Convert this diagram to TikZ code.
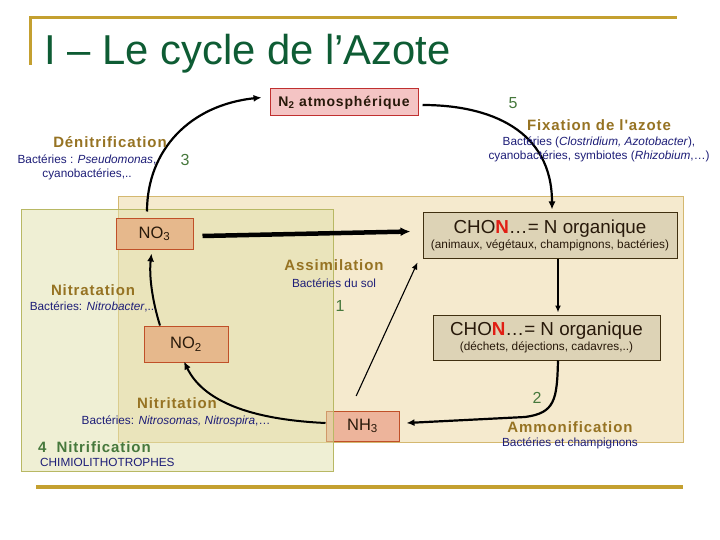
\documentclass[tikz,border=0pt]{standalone}
\usepackage{fontspec}
\setmainfont{Liberation Sans}
\newfontfamily\spaced[LetterSpace=6]{Liberation Sans}
\usetikzlibrary{arrows.meta,calc}

\definecolor{goldline}{RGB}{196,160,48}
\definecolor{titlegreen}{RGB}{14,92,52}
\definecolor{procgold}{RGB}{150,115,35}
\definecolor{bactnavy}{RGB}{30,30,120}
\definecolor{numgreen}{RGB}{70,120,60}
\definecolor{orgfill}{RGB}{245,234,206}
\definecolor{orgedge}{RGB}{212,184,112}
\definecolor{nitrfill}{RGB}{224,224,170}
\definecolor{nitredge}{RGB}{184,184,100}
\definecolor{nofill}{RGB}{230,184,140}
\definecolor{noedge}{RGB}{192,80,40}
\definecolor{nhfill}{RGB}{237,180,155}
\definecolor{ntwofill}{RGB}{244,196,196}
\definecolor{ntwoedge}{RGB}{192,48,48}
\definecolor{chonfill}{RGB}{221,211,182}
\definecolor{chonedge}{RGB}{64,48,16}
\definecolor{inktext}{RGB}{40,25,10}
\definecolor{chonred}{RGB}{225,30,20}

\newcommand{\chonline}{CHO\textcolor{chonred}{\textbf{N}}…= N organique}

\begin{document}
\begin{tikzpicture}[x=1pt, y=-1pt,
  procname/.style={text=procgold, font=\spaced\bfseries\fontsize{15}{17}\selectfont, inner sep=0pt},
  bact/.style={text=bactnavy, font=\fontsize{11.8}{13.5}\selectfont, align=center, inner sep=0pt},
  stepnum/.style={text=numgreen, font=\fontsize{16}{18}\selectfont, inner sep=0pt},
  chem/.style={draw=noedge, fill=nofill, text=inktext, inner sep=0pt, line width=1pt,
    font=\fontsize{16.5}{18}\selectfont},
  chon/.style={draw=chonedge, fill=chonfill, text=inktext, inner sep=0pt, align=center, line width=1pt},
  flow/.style={line width=2.2pt, -{Latex[length=8pt,width=7pt]}}]

  \useasboundingbox (0,0) rectangle (720,540);
  \fill[white] (0,0) rectangle (720,540);

  \draw[goldline, line width=3pt] (30,65) -- (30,18) -- (677,18);
  \draw[goldline, line width=3.5pt] (36,487) -- (683,487);
  \node[anchor=base west, text=titlegreen, font=\fontsize{41.8}{48}\selectfont, inner sep=0pt]
    (title) at (44,65) {I – Le cycle de l’Azote};

  \draw[orgedge, fill=orgfill, line width=1pt] (118,197) rectangle (683,442);
  \node[chem, fill=nhfill, minimum width=73pt, minimum height=30pt] (nh3) at (362.5,426) {NH\textsubscript{3}};
  \draw[nitredge, fill=nitrfill, fill opacity=0.5, line width=1pt] (21,210) rectangle (333,471);

  \node[chem, draw=ntwoedge, fill=ntwofill, minimum width=148pt, minimum height=27pt,
    font=\spaced\bfseries\fontsize{14}{16}\selectfont] (n2) at (344,102.5) {N\textsubscript{2} atmosphérique};
  \node[chem, minimum width=77pt, minimum height=30pt] (no3) at (154.5,234) {NO\textsubscript{3}};
  \node[chem, minimum width=84pt, minimum height=36pt] (no2) at (186,344) {NO\textsubscript{2}};
  \node[chon, minimum width=254pt, minimum height=45pt] (orgA) at (550,235.5)
    {{\fontsize{18.8}{20}\selectfont\chonline}\\[1pt]
     {\fontsize{11.8}{13}\selectfont (animaux, végétaux, champignons, bactéries)}};
  \node[chon, minimum width=227pt, minimum height=45pt] (orgB) at (546.5,337.5)
    {{\fontsize{18.8}{20}\selectfont\chonline}\\[1pt]
     {\fontsize{11.8}{13}\selectfont (déchets, déjections, cadavres,..)}};

  \draw[flow, shorten <=7pt] ([xshift=-7.5pt]no3.north) .. controls (147,150) and (190,105) .. ([xshift=-8pt,yshift=5pt]n2.west);
  \draw[flow] ([xshift=4pt,yshift=-2.5pt]n2.east) .. controls (490,105) and (552,130) .. ([xshift=2pt,yshift=3pt]orgA.north);
  \draw[flow, line width=4.5pt, -{Latex[length=10pt,width=9pt]}] ([xshift=9pt,yshift=-2pt]no3.east) -- ([xshift=-12pt,yshift=4pt]orgA.west);
  \draw[line width=1.1pt, -{Latex[length=7pt,width=6pt]}, shorten <=16pt] ([xshift=-13pt]nh3.north) -- ([xshift=-5pt,yshift=-4pt]orgA.south west);
  \draw[line width=1.5pt, -{Latex[length=7pt,width=6pt]}] ([xshift=8pt]orgA.south) -- ($(orgA.south |- orgB.north)+(8,-2)$);
  \draw[flow] ([xshift=11.5pt]orgB.south) .. controls (557,400) and (555,413) .. (525,417) -- ([xshift=7pt,yshift=3pt]nh3.east);
  \draw[flow, line width=2pt] ([yshift=3pt]nh3.west) .. controls (260,420) and (205,405) .. ([xshift=-2pt,yshift=1pt]no2.south);
  \draw[flow, line width=2pt] ([xshift=-26pt]no2.north) .. controls (152,300) and (149,275) .. ([xshift=-3pt,yshift=-4pt]no3.south);

  \node[procname] (denit) at (110,142) {Dénitrification};
  \node[bact] (denitb) at (87,167.5) {Bactéries : \textit{Pseudomonas},\\cyanobactéries,..};
  \node[stepnum] (s3) at (185,160) {3};
  \node[stepnum] (s5) at (513,103) {5};
  \node[procname] (fix) at (599,125) {Fixation de l'azote};
  \node[bact] (fixb) at (599,149.5) {Bactéries (\textit{Clostridium, Azotobacter}),\\cyanobactéries, symbiotes (\textit{Rhizobium},…)};
  \node[procname] (assim) at (334,265) {Assimilation};
  \node[bact] (assimb) at (334,283) {Bactéries du sol};
  \node[stepnum] (s1) at (340,306) {1};
  \node[procname] (nitra) at (93,290) {Nitratation};
  \node[bact] (nitrab) at (92,307) {Bactéries: \textit{Nitrobacter},..};
  \node[procname] (nitri) at (177,403) {Nitritation};
  \node[bact] (nitrib) at (176,421) {Bactéries: \textit{Nitrosomas, Nitrospira},…};
  \node[procname, text=numgreen, anchor=west] (nitrif) at (38,447) {4\hspace{10pt}Nitrification};
  \node[bact, anchor=west] (chimio) at (40,462) {CHIMIOLITHOTROPHES};
  \node[stepnum] (s2) at (537,398) {2};
  \node[procname] (ammo) at (570,427) {Ammonification};
  \node[bact] (ammob) at (570,443) {Bactéries et champignons};
\end{tikzpicture}
\end{document}
